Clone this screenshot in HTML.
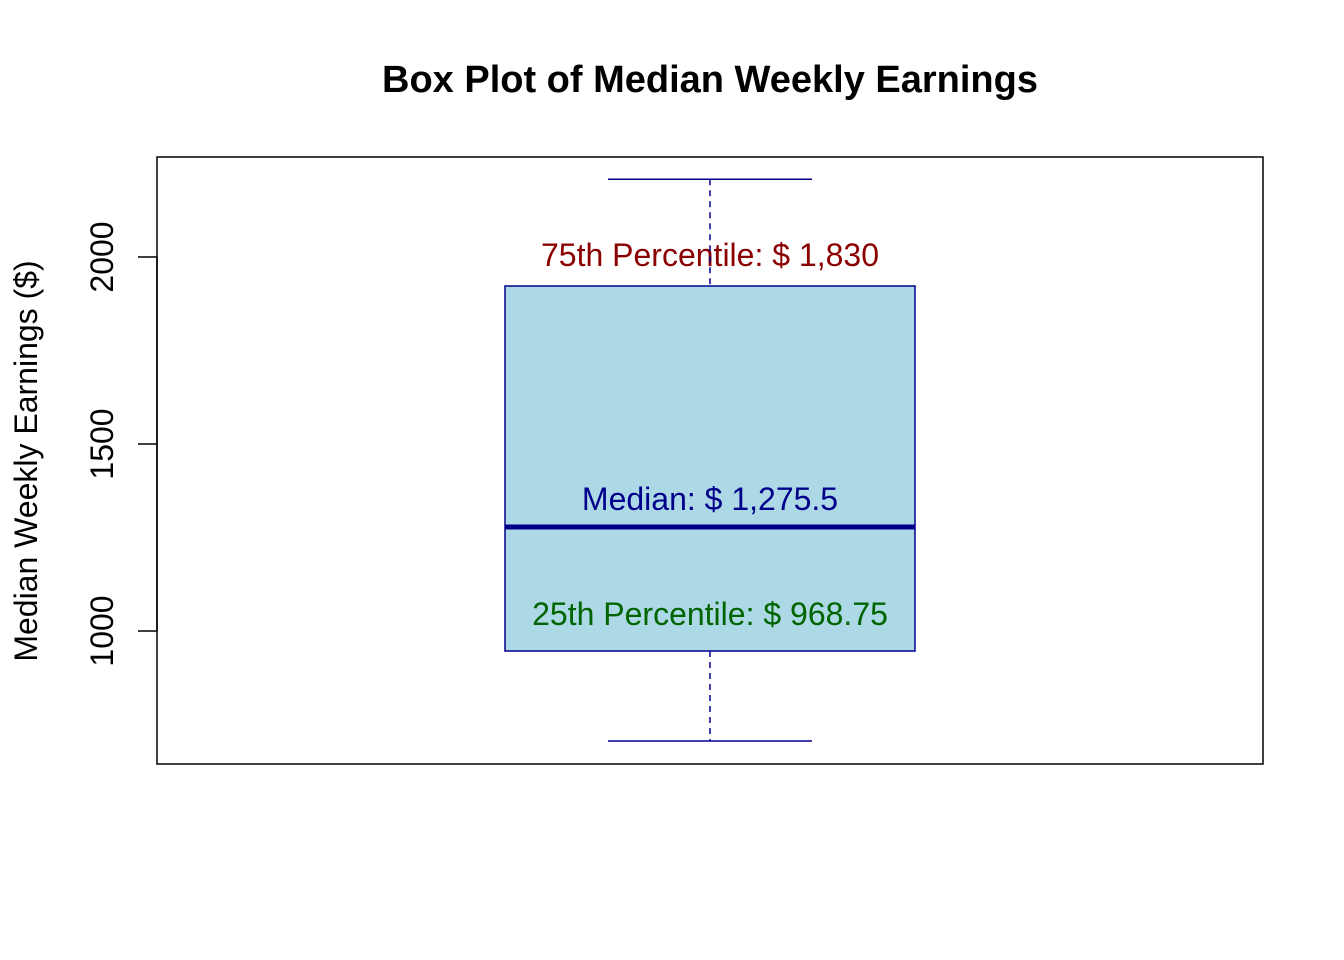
<!DOCTYPE html>
<html><head><meta charset="utf-8"><style>
body{margin:0;background:#fff}
svg{display:block;font-family:"Liberation Sans",Arial,sans-serif}
</style></head><body>
<svg id="chart" width="1344" height="960">
<text x="710" y="92" text-anchor="middle" font-size="38" font-weight="bold">Box Plot of Median Weekly Earnings</text>
<rect x="157" y="157" width="1106" height="607" fill="none" stroke="#000" stroke-width="1.5"/>
<text transform="translate(37,461) rotate(-90)" text-anchor="middle" font-size="32">Median Weekly Earnings ($)</text>
<g id="axis"></g>
<g id="marks"></g>
</svg>
<script>
const ticks=[1000,1500,2000];
const stats=[706,946.5,1278,1922.5,2208];
const labels=["75th Percentile: $ 1,830","Median: $ 1,275.5","25th Percentile: $ 968.75"];
const ns="http://www.w3.org/2000/svg";
function y(v){return 631-(v-1000)*0.374;}
function el(tag,attrs,parent,text){const e=document.createElementNS(ns,tag);for(const k in attrs)e.setAttribute(k,attrs[k]);if(text)e.textContent=text;parent.appendChild(e);return e;}
const ax=document.getElementById('axis'),mk=document.getElementById('marks');
el('line',{x1:157,x2:157,y1:y(ticks[0]),y2:y(ticks[ticks.length-1]),stroke:'#000','stroke-width':1.5},ax);
ticks.forEach(t=>{
 const l=el('line',{x1:138,x2:157,y1:y(t),y2:y(t),stroke:'#000','stroke-width':1.5},ax);
 
 
 const tx=el('text',{transform:`translate(113,${y(t)}) rotate(-90)`,'text-anchor':'middle','font-size':32},ax,String(t));
 
 
});
const cx=710,c='#00008B';
let e;
e=el('line',{x1:cx,x2:cx,y1:y(stats[1]),y2:y(stats[0]),stroke:c,'stroke-width':1.5,'stroke-dasharray':'6,5'},mk);

e=el('line',{x1:608,x2:812,y1:y(stats[4]),y2:y(stats[4]),stroke:c,'stroke-width':1.5},mk);

e=el('line',{x1:608,x2:812,y1:y(stats[0]),y2:y(stats[0]),stroke:c,'stroke-width':1.5},mk);

e=el('rect',{x:505,width:410,y:y(stats[3]),height:y(stats[1])-y(stats[3]),fill:'#ADD8E6',stroke:c,'stroke-width':1.5},mk);

e=el('line',{x1:505,x2:915,y1:y(stats[2]),y2:y(stats[2]),stroke:c,'stroke-width':5},mk);

e=el('text',{x:cx,y:266,'text-anchor':'middle','font-size':32,fill:'#8B0000'},mk,labels[0]);

e=el('line',{x1:cx,x2:cx,y1:y(stats[4]),y2:y(stats[3]),stroke:c,'stroke-width':1.5,'stroke-dasharray':'6,5'},mk);

e=el('text',{x:cx,y:510,'text-anchor':'middle','font-size':32,fill:'#00008B'},mk,labels[1]);

e=el('text',{x:cx,y:625,'text-anchor':'middle','font-size':32,fill:'#006400'},mk,labels[2]);

</script>
</body></html>
